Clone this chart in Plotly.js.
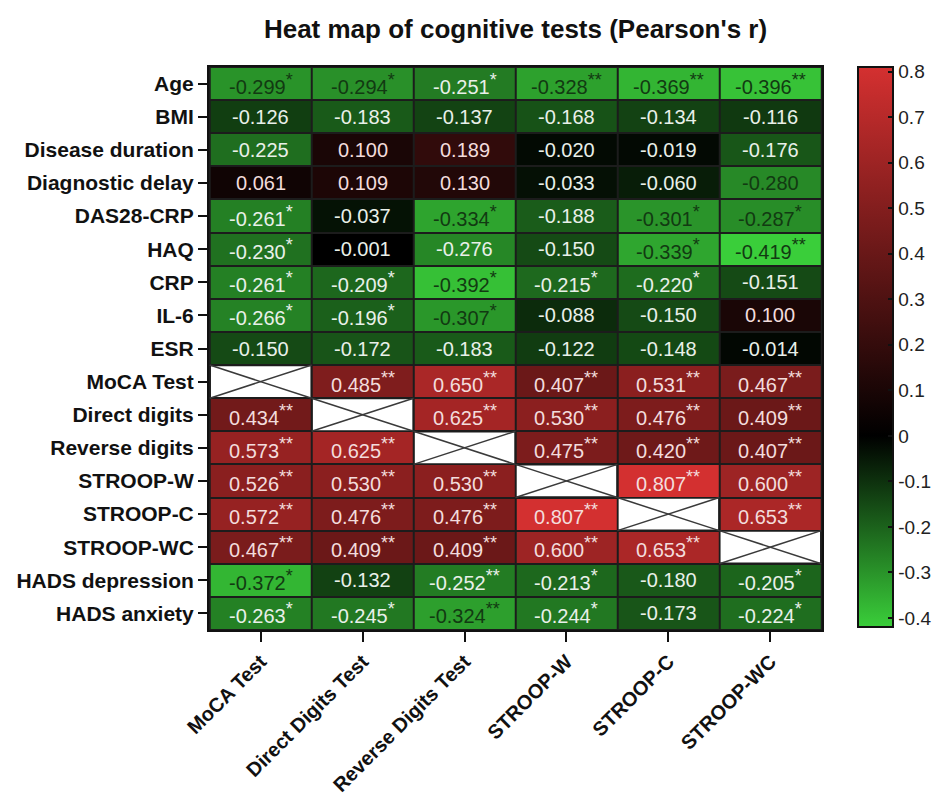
<!DOCTYPE html>
<html>
<head>
<meta charset="utf-8">
<script src="https://cdn.plot.ly/plotly-3.0.1.min.js"></script>
<style>html,body{margin:0;padding:0;background:#fff;}#chart{width:950px;height:799px;}</style>
</head>
<body>
<div id="chart"></div>
<script>
// Row (y) categories
const rowLabels = ["Age","BMI","Disease duration","Diagnostic delay","DAS28-CRP","HAQ","CRP","IL-6","ESR",
  "MoCA Test","Direct digits","Reverse digits","STROOP-W","STROOP-C","STROOP-WC","HADS depression","HADS anxiety"];
// Column (x) categories
const colLabels = ["MoCA Test","Direct Digits Test","Reverse Digits Test","STROOP-W","STROOP-C","STROOP-WC"];

// Pearson's r per column (null = diagonal, not computed)
const mocaR    = [-0.299,-0.126,-0.225, 0.061,-0.261,-0.230,-0.261,-0.266,-0.150, null, 0.434, 0.573, 0.526, 0.572, 0.467,-0.372,-0.263];
const directR  = [-0.294,-0.183, 0.100, 0.109,-0.037,-0.001,-0.209,-0.196,-0.172, 0.485, null, 0.625, 0.530, 0.476, 0.409,-0.132,-0.245];
const reverseR = [-0.251,-0.137, 0.189, 0.130,-0.334,-0.276,-0.392,-0.307,-0.183, 0.650, 0.625, null, 0.530, 0.476, 0.409,-0.252,-0.324];
const stroopWR = [-0.328,-0.168,-0.020,-0.033,-0.188,-0.150,-0.215,-0.088,-0.122, 0.407, 0.530, 0.475, null, 0.807, 0.600,-0.213,-0.244];
const stroopCR = [-0.369,-0.134,-0.019,-0.060,-0.301,-0.339,-0.220,-0.150,-0.148, 0.531, 0.476, 0.420, 0.807, null, 0.653,-0.180,-0.173];
const stroopWCR= [-0.396,-0.116,-0.176,-0.280,-0.287,-0.419,-0.151, 0.100,-0.014, 0.467, 0.409, 0.407, 0.600, 0.653, null,-0.205,-0.224];

// Significance marks per column
const mocaSig    = ["*","","","","*","*","*","*","","","**","**","**","**","**","*","*"];
const directSig  = ["*","","","","","","*","*","","**","","**","**","**","**","","*"];
const reverseSig = ["*","","","","*","","*","*","","**","**","","**","**","**","**","**"];
const stroopWSig = ["**","","","","","","*","","","**","**","**","","**","**","*","*"];
const stroopCSig = ["**","","","","*","*","*","","","**","**","**","**","","**","",""];
const stroopWCSig= ["**","","","","*","**","","","","**","**","**","**","**","","*","*"];

// Colour bar ticks
const cbTicks = [0.8,0.7,0.6,0.5,0.4,0.3,0.2,0.1,0,-0.1,-0.2,-0.3,-0.4];
const cbTickText = ["0.8","0.7","0.6","0.5","0.4","0.3","0.2","0.1","0","-0.1","-0.2","-0.3","-0.4"];

const cols = [mocaR, directR, reverseR, stroopWR, stroopCR, stroopWCR];
const sigs = [mocaSig, directSig, reverseSig, stroopWSig, stroopCSig, stroopWCSig];

const zmin = -0.42, zmax = 0.81;
const zero = (0 - zmin) / (zmax - zmin);

// z matrix: rows x columns
const z = rowLabels.map((_, ri) => cols.map(c => c[ri]));

const font = "Liberation Sans, Arial, Helvetica, sans-serif";

const annotations = [];
const shapes = [];
rowLabels.forEach((rl, ri) => {
  colLabels.forEach((cl, ci) => {
    const v = cols[ci][ri];
    if (v === null) {
      shapes.push({type:"rect", xref:"x", yref:"y", x0:ci-0.5+0.012, x1:ci+0.5-0.012, y0:ri-0.5+0.035, y1:ri+0.5-0.035,
        fillcolor:"#ffffff", line:{width:0}, layer:"above"});
      shapes.push({type:"line", xref:"x", yref:"y", x0:ci-0.5, x1:ci+0.5, y0:ri-0.5, y1:ri+0.5, line:{color:"#3a3a3a", width:1.5}, layer:"above"});
      shapes.push({type:"line", xref:"x", yref:"y", x0:ci-0.5, x1:ci+0.5, y0:ri+0.5, y1:ri-0.5, line:{color:"#3a3a3a", width:1.5}, layer:"above"});
      return;
    }
    const s = sigs[ci][ri];
    const txt = v.toFixed(3) + (s ? "<sup><span style=\"font-size:18px\">" + s + "</span></sup>" : "");
    let color = "#e9f0e9";
    if (v > 0) color = "#f3dcdc";
    if (v <= -0.28) color = "#123a12";
    annotations.push({x: cl, y: rl, xref:"x", yref:"y", text: txt, showarrow:false,
      font:{family:font, size:20, color: color}});
  });
});

const trace = {
  type: "heatmap",
  x: colLabels,
  y: rowLabels,
  z: z,
  zmin: zmin,
  zmax: zmax,
  xgap: 2,
  ygap: 2,
  hoverongaps: false,
  colorscale: [
    [0, "rgb(58,206,58)"],
    [zero, "rgb(0,0,0)"],
    [1, "rgb(212,48,48)"]
  ],
  colorbar: {
    thickness: 35,
    len: 0.995,
    lenmode: "fraction",
    y: 0.5025,
    yanchor: "middle",
    x: 1.058,
    xanchor: "left",
    xpad: 0,
    ypad: 0,
    outlinewidth: 2,
    outlinecolor: "#111",
    ticks: "inside",
    ticklen: 6,
    tickwidth: 2,
    tickcolor: "#111",
    tickmode: "array",
    tickvals: cbTicks,
    ticktext: cbTickText,
    tickfont: {family: font, size: 19, color: "#222"}
  }
};

const layout = {
  width: 950,
  height: 799,
  margin: {l: 209, r: 124, t: 67, b: 169, pad: 0},
  paper_bgcolor: "#ffffff",
  plot_bgcolor: "#1c1c1c",
  title: {
    text: "<b>Heat map of cognitive tests (Pearson's r)</b>",
    x: 0.5, xref: "paper", xanchor: "center",
    y: 1 - 29/799, yref: "container", yanchor: "middle",
    font: {family: font, size: 26, color: "#111"}
  },
  xaxis: {
    type: "category",
    automargin: false,
    tickangle: -45,
    ticks: "outside",
    ticklen: 10,
    tickwidth: 2,
    tickcolor: "#111",
    showline: true,
    linecolor: "#111",
    linewidth: 2,
    mirror: true,
    showgrid: false,
    zeroline: false,
    tickfont: {family: font, size: 20, color: "#111", weight: "bold"}
  },
  yaxis: {
    type: "category",
    automargin: false,
    autorange: "reversed",
    ticks: "outside",
    ticklen: 9,
    tickwidth: 2,
    tickcolor: "#111",
    showline: true,
    linecolor: "#111",
    linewidth: 2,
    mirror: true,
    showgrid: false,
    zeroline: false,
    tickfont: {family: font, size: 21, color: "#111", weight: "bold"}
  },
  annotations: annotations,
  shapes: shapes
};

Plotly.newPlot("chart", [trace], layout, {displayModeBar: false, staticPlot: true});
</script>
</body>
</html>
